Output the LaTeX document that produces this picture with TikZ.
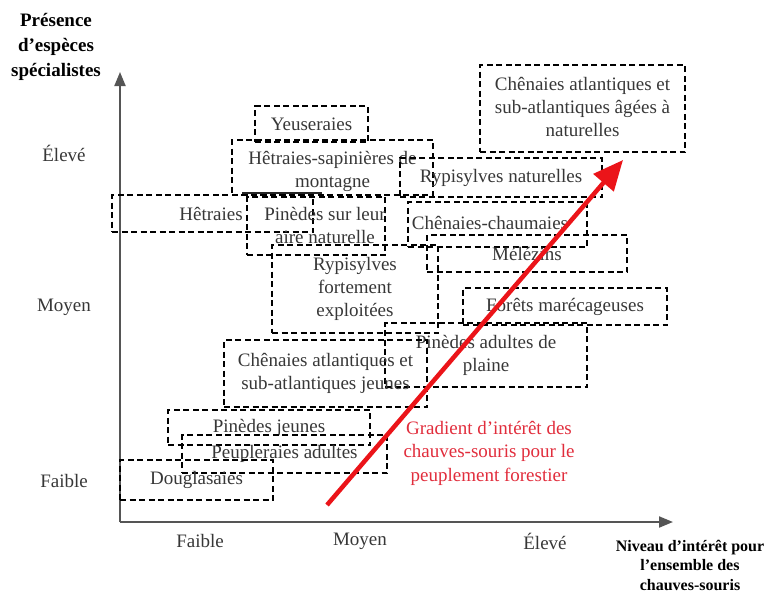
\documentclass[tikz,border=0pt]{standalone}
\usepackage{fontspec}
\setmainfont{Liberation Serif}
\usetikzlibrary{arrows.meta}

\definecolor{axisgrey}{RGB}{85,85,85}
\definecolor{txtgrey}{RGB}{55,55,55}
\definecolor{gradred}{RGB}{235,20,25}
\definecolor{gradtxt}{RGB}{225,45,60}

\tikzset{
  zone/.style={draw=black, line width=1.8pt, dash pattern=on 6pt off 3.5pt,
    inner sep=0pt, align=center, text=txtgrey,
    font=\fontsize{19}{23}\selectfont},
  zonetext/.style={inner sep=0pt, align=center, text=txtgrey,
    font=\fontsize{19}{23}\selectfont},
  axislabel/.style={inner sep=0pt, text=txtgrey, font=\fontsize{19}{23}\selectfont},
  axistitle/.style={inner sep=0pt, align=center, font=\bfseries\fontsize{19}{25}\selectfont},
  axistitlesmall/.style={inner sep=0pt, align=center, font=\bfseries\fontsize{16}{19.5}\selectfont},
  axisline/.style={draw=axisgrey, line width=2pt,
    -{Triangle[length=14pt,width=11pt]}},
  gradient/.style={draw=gradred, line width=4.5pt,
    -{Triangle[length=30pt,width=26pt]}},
}

\begin{document}
\begin{tikzpicture}[x=1pt,y=-1pt]
\useasboundingbox (0,0) rectangle (771,595);

% axes
\coordinate (O) at (120,522);
\coordinate (ytop) at (120,72);
\coordinate (xend) at (673,522);
\draw[axisline] (O) -- (ytop);
\draw[axisline] (O) -- (xend);

% axis titles
\node[axistitle] (ytitle) at (56,47) {Présence\\d’espèces\\spécialistes};
\node[axistitlesmall] (xtitle) at (690,565) {Niveau d’intérêt pour\\l’ensemble des\\chauves-souris};

% levels on the vertical axis
\node[axislabel] (yhigh) at (64,153) {Élevé};
\node[axislabel] (ymid) at (64,307) {Moyen};
\node[axislabel] (ylow) at (64,481) {Faible};

% levels on the horizontal axis
\node[axislabel] (xlow) at (200,541) {Faible};
\node[axislabel] (xmid) at (360,541) {Moyen};
\node[axislabel] (xhigh) at (545,541) {Élevé};

% forest stands
\node[zone, minimum width=113pt, minimum height=36pt] (yeus) at (311.5,124) {Yeuseraies};
\node[zone, minimum width=201pt, minimum height=55pt] (hetsap) at (332.5,167.5) {};
\node[zonetext] (hetsaptxt) at (332.5,171) {Hêtraies-sapinières de\\montagne};
\draw[line width=1.8pt, black!85] (242,193) -- (322,193);
\node[zone, minimum width=202pt, minimum height=39pt] (rypnat) at (501,177.5) {Rypisylves naturelles};
\node[zone, minimum width=201pt, minimum height=37pt] (hetr) at (212.5,213.5) {};
\node[zonetext] (hetrtxt) at (211,214) {Hêtraies};
\node[zone, minimum width=138pt, minimum height=58pt] (pinnat) at (316,226) {};
\node[zonetext] (pinnattxt) at (325,225) {Pinèdes sur leur\\aire naturelle};
\node[zone, minimum width=179pt, minimum height=45pt] (chch) at (497.5,224.5) {};
\node[zonetext] (chchtxt) at (490,223) {Chênaies-chaumaies};
\node[zone, minimum width=200pt, minimum height=37pt] (mel) at (527,253.5) {Mélézins};
\node[zone, minimum width=166pt, minimum height=88pt] (rypexp) at (355,289) {Rypisylves\\fortement\\exploitées};
\node[zone, minimum width=204pt, minimum height=37pt] (marec) at (565,306.5) {Forêts marécageuses};
\node[zone, minimum width=202pt, minimum height=64pt] (pinad) at (486,355) {Pinèdes adultes de\\plaine};
\node[zone, minimum width=203pt, minimum height=67pt] (chjeu) at (325.5,373.5) {Chênaies atlantiques et\\sub-atlantiques jeunes};
\node[zone, minimum width=202pt, minimum height=35pt] (pinjeu) at (269,427.5) {Pinèdes jeunes};
\node[zone, minimum width=205pt, minimum height=38pt] (peup) at (284.5,454) {Peupleraies adultes};
\node[zone, minimum width=153pt, minimum height=40pt] (doug) at (196.5,480) {Douglasaies};
\node[zone, minimum width=205pt, minimum height=87pt] (chage) at (582.5,108.5) {};
\node[zonetext] (chagetxt) at (582.5,107) {Chênaies atlantiques et\\sub-atlantiques âgées à\\naturelles};

% gradient of interest
\coordinate (gstart) at (327,505);
\coordinate (gend) at (623,160);
\draw[gradient] (gstart) -- (gend);
\node[inner sep=0pt, align=center, text=gradtxt, font=\fontsize{19}{23.5}\selectfont]
  (gradtxt) at (489,453) {Gradient d’intérêt des\\chauves-souris pour le\\peuplement forestier};
\end{tikzpicture}
\end{document}
